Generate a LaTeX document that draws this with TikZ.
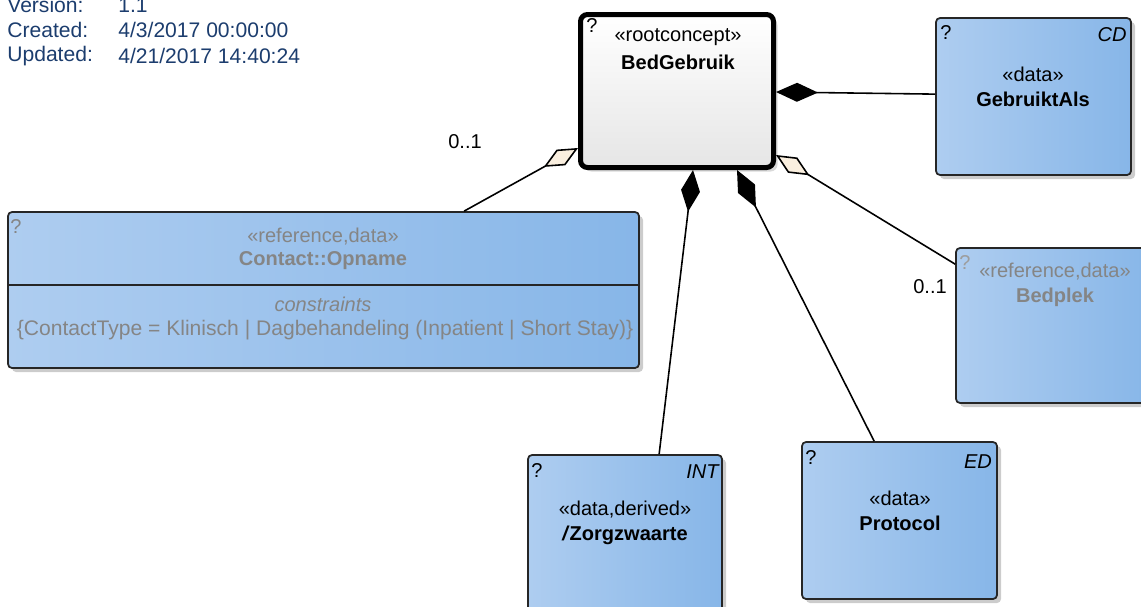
\documentclass[tikz,border=0pt]{standalone}
\usepackage{fontspec}
\setmainfont{Liberation Sans}
\usetikzlibrary{arrows.meta,calc,shadows}

\definecolor{boxlight}{HTML}{AECDF0}
\definecolor{boxdark}{HTML}{87B6E8}
\definecolor{headblue}{HTML}{1C3D6E}
\definecolor{refgrey}{HTML}{858585}
\definecolor{aggfill}{HTML}{FAEFDF}

\tikzset{
  boxdim/.style 2 args={minimum width=#1*0.02cm, minimum height=#2*0.02cm},
  classbox/.style={draw=black!85, line width=1pt, rounded corners=0.08cm,
    left color=boxlight, right color=boxdark, inner sep=0pt,
    drop shadow={shadow xshift=0.08cm, shadow yshift=-0.08cm, fill=black, opacity=0.2}},
  rootbox/.style={draw=black, line width=0.1cm, rounded corners=0.14cm,
    top color=white, bottom color=black!10, inner sep=0pt,
    drop shadow={shadow xshift=0.08cm, shadow yshift=-0.08cm, fill=black, opacity=0.15}},
  txt/.style={inner sep=0pt},
  headtxt/.style={inner sep=0pt, anchor=west, text=headblue, font=\fontsize{12}{14}\selectfont},
  comp/.style={line width=0.9pt, {Diamond[length=0.84cm, width=0.38cm]}-},
  agg/.style={line width=0.9pt, {Diamond[length=0.78cm, width=0.36cm, fill=aggfill]}-},
}

\begin{document}
\begin{tikzpicture}[x=0.02cm, y=-0.02cm,
    every node/.append style={font=\fontsize{11.4}{13.7}\selectfont}]
  \path[use as bounding box, clip] (0,0) rectangle (1141,606);

  % header
  \node[headtxt] (verlbl) at (7,5) {Version:};
  \node[headtxt] (verval) at (118,5) {1.1};
  \node[headtxt] (crelbl) at (7,30) {Created:};
  \node[headtxt] (creval) at (118,30) {4/3/2017 00:00:00};
  \node[headtxt] (updlbl) at (7,56) {Updated:};
  \node[headtxt] (updval) at (118,56) {4/21/2017 14:40:24};

  % boxes
  \node[rootbox, boxdim={193}{153}] (root) at (677,91) {};
  \node[classbox, boxdim={195}{157}] (gebruikt) at (1033.5,96.5) {};
  \node[classbox, boxdim={631}{156}] (opname) at (323.5,290) {};
  \node[classbox, boxdim={195}{155}] (bedplek) at (1053.5,325.5) {};
  \node[classbox, boxdim={194}{157}] (zorg) at (625,533.5) {};
  \node[classbox, boxdim={195}{157}] (protocol) at (899.5,520.5) {};
  \draw[line width=1pt, black!85] ($(opname.north west)+(0,74)$) -- ($(opname.north east)+(0,74)$);

  % texts
  \node[txt] (rootq) at (592,26) {?};
  \node[txt] (rootst) at (678,37) {«rootconcept»};
  \node[txt] (rootnm) at (678,62) {\textbf{BedGebruik}};

  \node[txt] (gebq) at (946,33) {?};
  \node[txt] (gebcd) at (1112,35) {\textit{CD}};
  \node[txt] (gebst) at (1033,74) {«data»};
  \node[txt] (gebnm) at (1033,99) {\textbf{GebruiktAls}};

  \node[txt, text=refgrey] (opq) at (16,226) {?};
  \node[txt, text=refgrey] (opst) at (323,237) {«reference,data»};
  \node[txt, text=refgrey] (opnm) at (323,261) {\textbf{Contact::Opname}};
  \node[txt, text=refgrey] (opcn) at (323,304) {\textit{constraints}};
  \node[txt, text=refgrey, font=\fontsize{12}{14}\selectfont] (opct) at (325,330) {\{ContactType = Klinisch | Dagbehandeling (Inpatient | Short Stay)\}};

  \node[txt, text=refgrey!80] (bedq) at (965,262) {?};
  \node[txt, text=refgrey] (bedst) at (1055,272) {«reference,data»};
  \node[txt, text=refgrey] (bednm) at (1055,297) {\textbf{Bedplek}};

  \node[txt] (zorgq) at (537,470) {?};
  \node[txt] (zorgint) at (703,472) {\textit{INT}};
  \node[txt] (zorgst) at (625,510) {«data,derived»};
  \node[txt] (zorgnm) at (625,535) {\textbf{\textit{/}Zorgzwaarte}};

  \node[txt] (protq) at (811,457) {?};
  \node[txt] (proted) at (978,462) {\textit{ED}};
  \node[txt] (protst) at (900,498) {«data»};
  \node[txt] (protnm) at (900,523) {\textbf{Protocol}};

  % connectors
  \draw[agg] ($(root.north west)+(0,136)$) -- ($(opname.north west)+(457,0)$);
  \draw[comp] ($(root.north east)+(0,80)$) -- ($(gebruikt.north west)+(0,77)$);
  \draw[comp] ($(root.south west)+(115,0)$) -- ($(zorg.north west)+(132,0)$);
  \draw[comp] ($(root.south west)+(159,0)$) -- ($(protocol.north west)+(73,0)$);
  \draw[agg] ($(root.north east)+(0,143)$) -- ($(bedplek.north west)+(0,17)$);

  \node[txt] (opmult) at (465,142) {0..1};
  \node[txt] (bedmult) at (930,287) {0..1};
\end{tikzpicture}
\end{document}
